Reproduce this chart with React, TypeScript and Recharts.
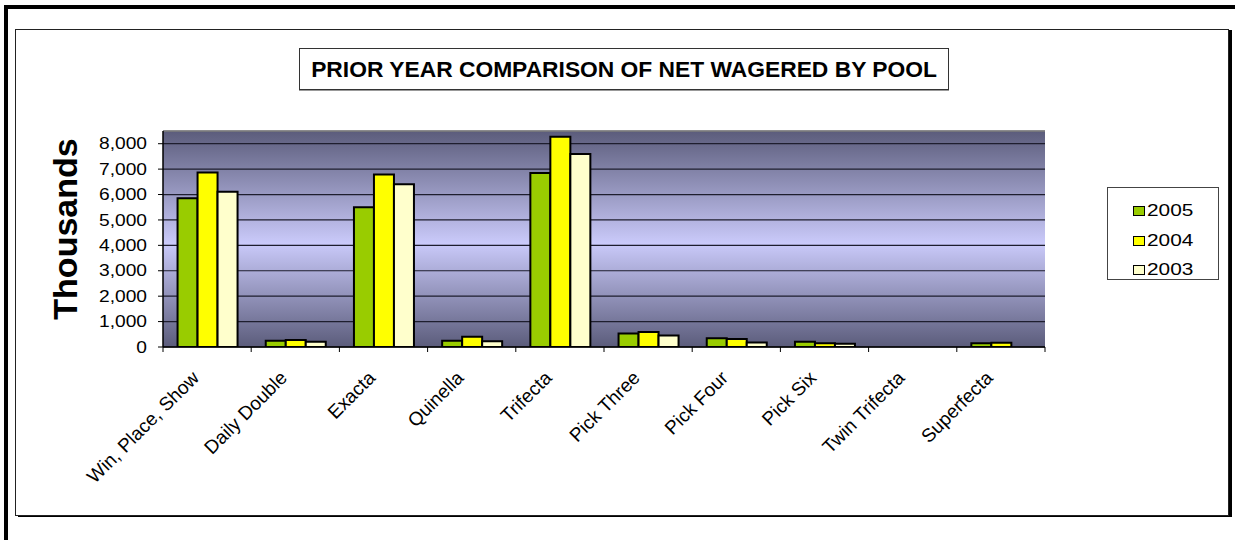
import React from 'react'
import {
  BarChart,
  Bar,
  XAxis,
  YAxis,
  CartesianGrid,
  ReferenceLine,
} from 'recharts'

const pools = [
  'Win, Place, Show',
  'Daily Double',
  'Exacta',
  'Quinella',
  'Trifecta',
  'Pick Three',
  'Pick Four',
  'Pick Six',
  'Twin Trifecta',
  'Superfecta',
]
const net2005 = [5850, 245, 5500, 245, 6850, 535, 340, 205, 0, 145]
const net2004 = [6870, 275, 6790, 400, 8270, 590, 310, 145, 0, 170]
const net2003 = [6110, 205, 6400, 230, 7590, 455, 180, 125, 0, 0]

const seriesKeys = ['y2005', 'y2004', 'y2003']
const seriesYears = ['2005', '2004', '2003']
const seriesColors = ['#99cc00', '#ffff00', '#ffffcc']

const yTicks = [0, 1000, 2000, 3000, 4000, 5000, 6000, 7000, 8000]
const yMax = 8500

const data = pools.map((pool, i) => ({
  pool,
  y2005: net2005[i],
  y2004: net2004[i],
  y2003: net2003[i],
}))

const FONT = '"Liberation Sans", Arial, sans-serif'

function YTick({ x, y, payload }: any) {
  return (
    <g transform={`translate(${x},${y}) scale(1.2,1)`}>
      <text x={0} y={0} dy="0.355em" textAnchor="end" fontSize={16} fontFamily={FONT} fill="#000">
        {Number(payload.value).toLocaleString('en-US')}
      </text>
    </g>
  )
}

// rotated category label plus Excel-style tick marks between categories
function PoolTick({ x, y, payload, index, width }: any) {
  const band = typeof width === 'number' ? width / pools.length : (payload?.offset || 44) * 2
  const left = x - band / 2
  const right = x + band / 2
  const isLast = index === pools.length - 1
  return (
    <g>
      <line x1={left} x2={left} y1={y} y2={y + 5} stroke="#000" strokeWidth={1} />
      {isLast && <line x1={right} x2={right} y1={y} y2={y + 5} stroke="#000" strokeWidth={1} />}
      <g transform={`translate(${x - 7},${y + 32})`}>
        <text
          x={0}
          y={0}
          textAnchor="end"
          transform="rotate(-45)"
          fontSize={19}
          fontFamily={FONT}
          fill="#000"
        >
          {payload.value}
        </text>
      </g>
    </g>
  )
}

function ThousandsLabel({ viewBox }: any) {
  const vb = viewBox || { x: 0, y: 131, width: 163, height: 216 }
  const cx = vb.x + 77
  const cy = vb.y + vb.height / 2 - 10
  return (
    <text
      x={cx}
      y={cy}
      transform={`rotate(-90, ${cx}, ${cy})`}
      textAnchor="middle"
      fontSize={34}
      fontWeight="bold"
      fontFamily={FONT}
      fill="#000"
    >
      Thousands
    </text>
  )
}

export default function App() {
  return (
    <div style={{ position: 'absolute', left: 0, top: 0, width: 1235, height: 540, fontFamily: FONT, background: '#fff' }}>
      {/* outer frame, only top and left visible */}
      <div style={{ position: 'absolute', left: 4, top: 5, width: 1231, height: 4, background: '#000' }} />
      <div style={{ position: 'absolute', left: 4, top: 5, width: 4, height: 535, background: '#000' }} />

      {/* chart area box */}
      <div
        style={{
          position: 'absolute',
          left: 15,
          top: 29,
          width: 1214,
          height: 487,
          border: '1px solid #222',
          boxSizing: 'border-box',
          boxShadow: '3px 1px 0 #000',
        }}
      />

      <div style={{ position: 'absolute', left: 0, top: 0 }}>
        <BarChart
          width={1235}
          height={540}
          data={data}
          margin={{ top: 131, right: 190, bottom: 93, left: 0 }}
          barCategoryGap="16.5%"
          barGap={0}
        >
          <defs>
            <linearGradient id="plotBg" x1="0" y1="0" x2="0" y2="1">
              <stop offset="0%" stopColor="#5b5c7b" />
              <stop offset="52%" stopColor="#cacafa" />
              <stop offset="100%" stopColor="#5b5c7b" />
            </linearGradient>
          </defs>
          <CartesianGrid
            vertical={false}
            stroke="#1e1e2e"
            strokeWidth={1.2}
            fill="url(#plotBg)"
            fillOpacity={1}
          />
          <XAxis
            dataKey="pool"
            interval={0}
            axisLine={{ stroke: '#000', strokeWidth: 1.5 }}
            tickLine={false}
            tickSize={0}
            tickMargin={0}
            height={100}
            tick={<PoolTick />}
          />
          <YAxis
            width={163}
            domain={[0, yMax]}
            ticks={yTicks}
            allowDataOverflow
            tickSize={5}
            tickMargin={11}
            tickLine={{ stroke: '#000' }}
            axisLine={{ stroke: '#000', strokeWidth: 1.5 }}
            tick={<YTick />}
            label={<ThousandsLabel />}
          />
          <YAxis
            yAxisId="r"
            orientation="right"
            width={0}
            domain={[0, yMax]}
            tick={false}
            tickLine={false}
            axisLine={{ stroke: '#8a8a8a', strokeWidth: 1.5 }}
          />
          <ReferenceLine y={yMax} stroke="#8a8a8a" strokeWidth={1.5} />
          {seriesKeys.map((key, i) => (
            <Bar
              key={key}
              dataKey={key}
              name={seriesYears[i]}
              fill={seriesColors[i]}
              stroke="#000"
              strokeWidth={2}
              isAnimationActive={false}
            />
          ))}
        </BarChart>
      </div>

      {/* title */}
      <div
        style={{
          position: 'absolute',
          left: 299,
          top: 48,
          width: 650,
          height: 42,
          border: '1px solid #333',
          boxSizing: 'border-box',
          boxShadow: '0 1px 0 #999',
          background: '#fff',
          textAlign: 'center',
          lineHeight: '40px',
          fontSize: 22.8,
          fontWeight: 'bold',
          whiteSpace: 'nowrap',
        }}
      >
        PRIOR YEAR COMPARISON OF NET WAGERED BY POOL
      </div>

      {/* legend */}
      <div
        style={{
          position: 'absolute',
          left: 1107,
          top: 187,
          width: 112,
          height: 93,
          border: '1px solid #444',
          boxSizing: 'border-box',
          background: '#fff',
        }}
      >
        {seriesYears.map((yr, i) => (
          <div
            key={yr}
            style={{
              position: 'absolute',
              left: 25,
              top: 15 + i * 29.5,
              height: 16,
              display: 'flex',
              alignItems: 'center',
            }}
          >
            <span
              style={{
                display: 'inline-block',
                width: 10,
                height: 8,
                background: seriesColors[i],
                border: '1.5px solid #000',
              }}
            />
            <span
              style={{
                display: 'inline-block',
                fontSize: 16,
                lineHeight: '16px',
                marginLeft: 2,
                transform: 'scaleX(1.3)',
                transformOrigin: 'left center',
              }}
            >
              {yr}
            </span>
          </div>
        ))}
      </div>
    </div>
  )
}
